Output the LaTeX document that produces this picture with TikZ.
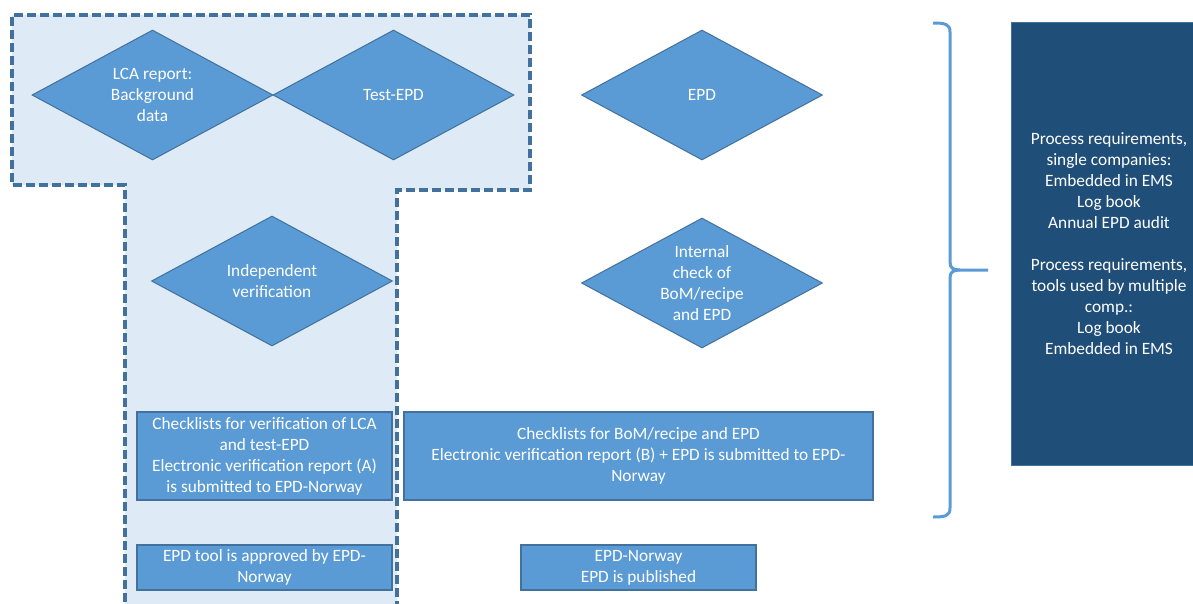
\documentclass[tikz,border=0pt]{standalone}
\usepackage{fontspec}
\setmainfont{Carlito}
\usetikzlibrary{shapes.geometric}
\definecolor{dfill}{HTML}{5B9BD5}
\definecolor{dline}{HTML}{41719C}
\definecolor{regionfill}{HTML}{DEEAF6}
\definecolor{darkbox}{HTML}{1F4E79}
\tikzset{
  txt/.style={text=white,align=center,font=\fontsize{17.3}{21}\selectfont},
  dia/.style={txt,shape=diamond,aspect=1.85,inner sep=0pt,fill=dfill,draw=dline,line width=1pt,minimum width=241pt,minimum height=130pt},
  boxnode/.style={txt,rectangle,fill=dfill,draw=dline,line width=1.5pt,inner sep=0pt},
  region/.style={draw=dline,line width=3.5pt,dash pattern=on 9pt off 4pt},
  bracestyle/.style={draw=dfill,line width=3pt}
}
\begin{document}
\begin{tikzpicture}[x=1pt,y=-1pt]
\useasboundingbox (0,0) rectangle (1193,603);
% dashed region
\fill[regionfill] (12,15) -- (530,15) -- (530,190) -- (397,190) -- (397,610) -- (125,610) -- (125,185) -- (12,185) -- cycle;
\draw[region] (397,610) -- (397,190) -- (530,190) -- (530,15) -- (12,15) -- (12,185) -- (125,185) -- (125,610);
% diamonds
\node[dia] (lca) at (152.5,95) {LCA report:\\Background\\data};
\node[dia] (test) at (393.5,95) {Test-EPD};
\node[dia] (epd) at (702,95) {EPD};
\node[dia] (indep) at (272,281) {Independent\\verification};
\node[dia] (internal) at (702,283) {Internal\\check of\\BoM/recipe\\and EPD};
% boxes
\node[boxnode,minimum width=255pt,minimum height=88pt] (checkA) at (264.5,456) {Checklists for verification of LCA\\and test-EPD\\Electronic verification report (A)\\is submitted to EPD-Norway};
\node[boxnode,minimum width=469pt,minimum height=88pt] (checkB) at (638.5,456) {Checklists for BoM/recipe and EPD\\Electronic verification report (B) + EPD is submitted to EPD-\\Norway};
\node[boxnode,minimum width=255pt,minimum height=45pt] (tool) at (264.5,567.5) {EPD tool is approved by EPD-\\Norway};
\node[boxnode,minimum width=235pt,minimum height=45pt] (pub) at (638.5,567.5) {EPD-Norway\\EPD is published};
% dark box
\node[txt,rectangle,fill=darkbox,draw=dline,line width=1pt,minimum width=196pt,minimum height=443pt,inner sep=0pt] (req) at (1109,243.5) {Process requirements,\\single companies:\\Embedded in EMS\\Log book\\Annual EPD audit\\[21pt]Process requirements,\\tools used by multiple\\comp.:\\Log book\\Embedded in EMS};
% brace
\draw[bracestyle] (933,23) .. controls (945,23) and (950,24) .. (950,32) -- (950,262) .. controls (950,268) and (953,270) .. (960,270) -- (988,270);
\draw[bracestyle] (960,270) .. controls (953,270) and (950,272) .. (950,278) -- (950,508) .. controls (950,516) and (945,517) .. (933,517);
\end{tikzpicture}
\end{document}
